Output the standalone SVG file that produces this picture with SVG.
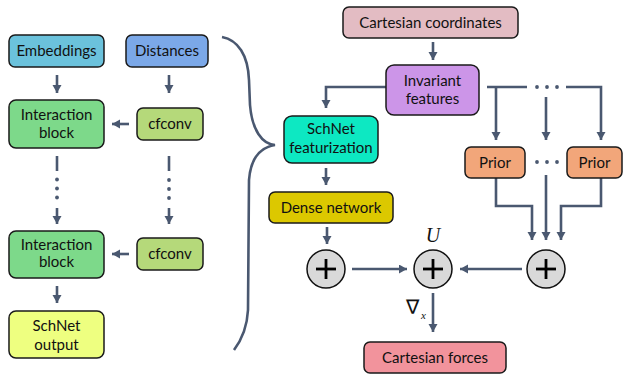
<svg xmlns="http://www.w3.org/2000/svg" width="625" height="375" viewBox="0 0 625 375">
<defs>
<marker id="ah" markerUnits="userSpaceOnUse" markerWidth="10" markerHeight="10" refX="8" refY="4.5" orient="auto">
<path d="M0,0 L8,4.5 L0,9 Z" fill="#4a5870"/>
</marker>
<style>
.box{stroke:#1a1a1a;stroke-width:1.5}
.t{font-family:Lato,"Liberation Sans",sans-serif;font-size:15px;fill:#111;text-anchor:middle}
.c{fill:none;stroke:#4a5870;stroke-width:2.6}
.a{fill:none;stroke:#4a5870;stroke-width:2.6;marker-end:url(#ah)}
.d{fill:#4a5870}
.circ{fill:#d9d9d9;stroke:#111;stroke-width:1.5}
.plus{stroke:#000;stroke-width:2.8}
</style>
</defs>
<g id="connectors">
<line class="a" x1="57" y1="75" x2="57" y2="93"/>
<line class="a" x1="169" y1="75" x2="169" y2="93"/>
<line class="a" x1="129" y1="124" x2="112" y2="124"/>
<line class="c" x1="57" y1="156" x2="57" y2="171"/>
<circle class="d" cx="57" cy="179.5" r="1.9"/><circle class="d" cx="57" cy="188.5" r="1.9"/><circle class="d" cx="57" cy="197.5" r="1.9"/>
<line class="a" x1="57" y1="208" x2="57" y2="224"/>
<line class="c" x1="169" y1="156" x2="169" y2="171"/>
<circle class="d" cx="169" cy="180" r="1.9"/><circle class="d" cx="169" cy="189" r="1.9"/><circle class="d" cx="169" cy="198" r="1.9"/>
<line class="a" x1="169" y1="208" x2="169" y2="224"/>
<line class="a" x1="129" y1="254" x2="112" y2="254"/>
<line class="a" x1="57" y1="286" x2="57" y2="303"/>
<path class="c" d="M222,37 C238,40 248,55 249,80 L250,105 C252,130 262,144 275,145 C262,147 251,155 249,180 L248,310 C247,330 240,342 234,350"/>
<line class="a" x1="433" y1="42" x2="433" y2="60"/>
<polyline class="a" points="386,87 326,87 326,108"/>
<line class="a" x1="326" y1="168" x2="326" y2="185"/>
<line class="a" x1="327" y1="227" x2="327" y2="244"/>
<line class="a" x1="352" y1="269" x2="407" y2="269"/>
<line class="a" x1="522" y1="269" x2="460" y2="269"/>
<line class="a" x1="433" y1="293" x2="433" y2="332"/>
<line class="c" x1="487" y1="87" x2="527" y2="87"/>
<circle class="d" cx="537" cy="87" r="1.9"/><circle class="d" cx="547" cy="87" r="1.9"/><circle class="d" cx="557" cy="87" r="1.9"/>
<polyline class="a" points="566,87 601,87 601,140"/>
<line class="a" x1="496" y1="87" x2="496" y2="140"/>
<line class="a" x1="546" y1="97" x2="546" y2="140"/>
<circle class="d" cx="537" cy="162" r="1.9"/><circle class="d" cx="547" cy="162" r="1.9"/><circle class="d" cx="557" cy="162" r="1.9"/>
<polyline class="a" points="496,178 496,206 532,206 532,240"/>
<line class="a" x1="546" y1="175" x2="546" y2="240"/>
<polyline class="a" points="601,178 601,206 561,206 561,240"/>
</g>
<g id="embeddings"><rect class="box" x="9" y="35" width="95" height="32" rx="6" fill="#6bc2dc"/><text class="t" x="56.5" y="56">Embeddings</text></g>
<g id="distances"><rect class="box" x="126" y="35" width="82" height="32" rx="6" fill="#7ba8e8"/><text class="t" x="167" y="56">Distances</text></g>
<g id="interaction1"><rect class="box" x="9" y="100" width="95" height="48" rx="7" fill="#7dd98a"/><text class="t" x="56.5" y="120">Interaction</text><text class="t" x="56.5" y="138">block</text></g>
<g id="cfconv1"><rect class="box" x="137" y="108" width="66" height="32" rx="6" fill="#b5d97a"/><text class="t" x="170" y="129">cfconv</text></g>
<g id="interaction2"><rect class="box" x="9" y="231" width="95" height="47" rx="7" fill="#7dd98a"/><text class="t" x="56.5" y="250">Interaction</text><text class="t" x="56.5" y="267">block</text></g>
<g id="cfconv2"><rect class="box" x="137" y="238" width="66" height="32" rx="6" fill="#b5d97a"/><text class="t" x="170" y="259">cfconv</text></g>
<g id="schnet_output"><rect class="box" x="9" y="311" width="95" height="47" rx="7" fill="#eeff80"/><text class="t" x="56.5" y="331">SchNet</text><text class="t" x="56.5" y="350">output</text></g>
<g id="cart_coords"><rect class="box" x="343" y="7" width="175" height="31" rx="6" fill="#e3bcc3"/><text class="t" x="430.5" y="28">Cartesian coordinates</text></g>
<g id="invariant"><rect class="box" x="386" y="65" width="93" height="50" rx="8" fill="#cc95e8"/><text class="t" x="432.5" y="86">Invariant</text><text class="t" x="432.5" y="104">features</text></g>
<g id="schnet_feat"><rect class="box" x="284" y="116" width="94" height="47" rx="8" fill="#0de8c2"/><text class="t" x="331" y="134">SchNet</text><text class="t" x="331" y="153">featurization</text></g>
<g id="dense"><rect class="box" x="269" y="192" width="124" height="31" rx="6" fill="#dcc800"/><text class="t" x="331" y="213">Dense network</text></g>
<g id="prior1"><rect class="box" x="465" y="147" width="60" height="31" rx="6" fill="#f2a67a"/><text class="t" x="495" y="168">Prior</text></g>
<g id="prior2"><rect class="box" x="567" y="147" width="55" height="31" rx="6" fill="#f2a67a"/><text class="t" x="594.5" y="168">Prior</text></g>
<g id="sum1"><circle class="circ" cx="326" cy="269" r="19"/><line class="plus" x1="316" y1="269" x2="336" y2="269"/><line class="plus" x1="326" y1="259" x2="326" y2="279"/></g>
<g id="sum_u"><circle class="circ" cx="433" cy="269" r="19"/><line class="plus" x1="423" y1="269" x2="443" y2="269"/><line class="plus" x1="433" y1="259" x2="433" y2="279"/>
<text x="433" y="242" font-family="'Liberation Serif',serif" font-style="italic" font-size="20" text-anchor="middle" fill="#111">U</text></g>
<g id="sum_prior"><circle class="circ" cx="546" cy="269" r="19"/><line class="plus" x1="536" y1="269" x2="556" y2="269"/><line class="plus" x1="546" y1="259" x2="546" y2="279"/></g>
<g id="grad_label"><text x="406" y="314" font-family="'DejaVu Sans',sans-serif" font-size="20" fill="#111">∇</text><text x="421" y="319" font-family="'Liberation Serif',serif" font-style="italic" font-size="11" fill="#111">x</text></g>
<g id="cart_forces"><rect class="box" x="364" y="342" width="142" height="31" rx="6" fill="#f2939c"/><text class="t" x="435" y="363">Cartesian forces</text></g>
</svg>
